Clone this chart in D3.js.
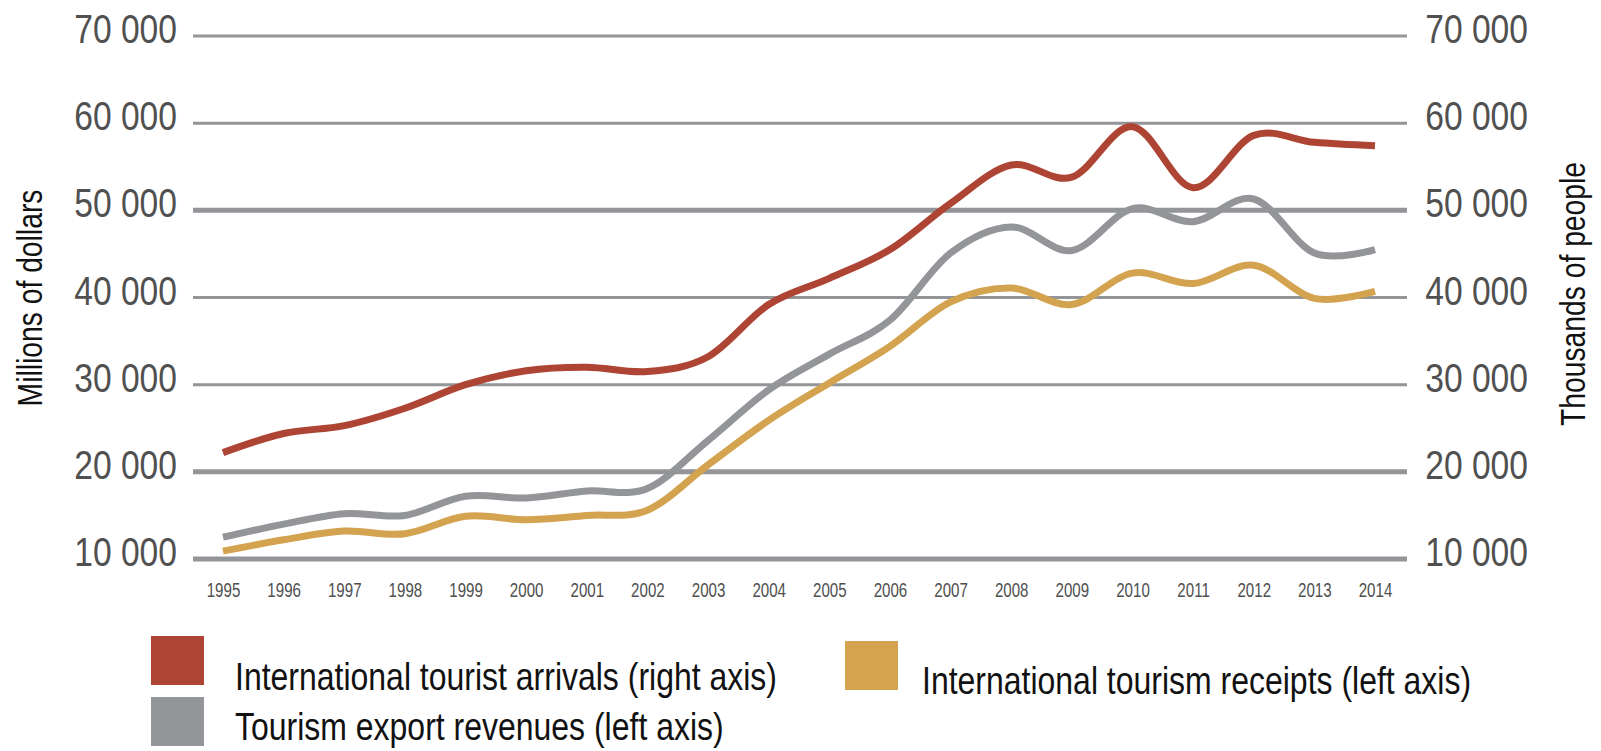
<!DOCTYPE html>
<html>
<head>
<meta charset="utf-8">
<script src="https://cdn.jsdelivr.net/npm/d3@7"></script>
<style>
  html, body { margin: 0; padding: 0; background: #fff; }
  svg { display: block; }
  text { font-family: "Liberation Sans", Arial, sans-serif; }
</style>
</head>
<body>
<svg id="chart" width="1601" height="751"></svg>
<script>
// ---------------- data ----------------
const years = ["1995","1996","1997","1998","1999","2000","2001","2002","2003","2004",
               "2005","2006","2007","2008","2009","2010","2011","2012","2013","2014"];
// International tourist arrivals (thousands of people, right axis)
const arrivals = [22200, 24400, 25300, 27300, 30000, 31600, 32000, 31500, 33200, 39200,
                  42200, 45500, 50800, 55200, 53800, 59600, 52600, 58600, 57800, 57400];
// Tourism export revenues (millions of dollars, left axis)
const exportRevenues = [12500, 14000, 15200, 15000, 17200, 17000, 17800, 18100, 23600, 29400,
                        33500, 37400, 45100, 48100, 45400, 50200, 48700, 51300, 45100, 45500];
// International tourism receipts (millions of dollars, left axis)
const receipts = [10900, 12200, 13200, 12900, 14900, 14500, 15000, 15600, 20800, 25900,
                  30200, 34400, 39500, 41100, 39200, 42800, 41600, 43700, 39900, 40700];
const yTicks = [10000, 20000, 30000, 40000, 50000, 60000, 70000];
const thickGrid = [10000, 20000, 50000];
const leftTitle = "Millions of dollars";
const rightTitle = "Thousands of people";
const legendItems = [
  {label: "International tourist arrivals (right axis)", color: "#AE4433"},
  {label: "Tourism export revenues (left axis)", color: "#939598"},
  {label: "International tourism receipts (left axis)", color: "#D4A350"}
];

// ---------------- layout ----------------
const svg = d3.select("#chart");
const gridX0 = 193, gridX1 = 1407;
const NARROW = 0.82;
const fmt = d => d3.format(",")(d).replace(/,/g, " ");

const x = d3.scalePoint().domain(years).range([223, 1375]);
const yL = d3.scaleLinear().domain([10000, 70000]).range([559, 36]);
const yR = d3.scaleLinear().domain([10000, 70000]).range([559, 36]);

// gridlines
svg.append("g").selectAll("line").data(yTicks).join("line")
  .attr("x1", gridX0).attr("x2", gridX1)
  .attr("y1", d => yL(d)).attr("y2", d => yL(d))
  .attr("stroke", "#939598")
  .attr("stroke-width", d => thickGrid.includes(d) ? 5 : 3);

// left axis
const gL = svg.append("g").attr("transform", `translate(${gridX0},0)`)
  .call(d3.axisLeft(yL).tickValues(yTicks).tickFormat(fmt).tickSize(0).tickPadding(16 / NARROW));
gL.select(".domain").remove();
gL.selectAll("text")
  .attr("dy", null).attr("y", 6.5)
  .attr("transform", `scale(${NARROW},1)`)
  .style("font-size", "41px").style("font-family", '"Liberation Sans", Arial, sans-serif')
  .attr("fill", "#505050");

// right axis
const gR = svg.append("g").attr("transform", `translate(1528,0)`)
  .call(d3.axisLeft(yR).tickValues(yTicks).tickFormat(fmt).tickSize(0).tickPadding(0));
gR.select(".domain").remove();
gR.selectAll("text")
  .attr("dy", null).attr("y", 6.5)
  .attr("transform", `scale(${NARROW},1)`)
  .style("font-size", "41px").style("font-family", '"Liberation Sans", Arial, sans-serif')
  .attr("fill", "#505050");

// x axis
const gX = svg.append("g").attr("transform", `translate(0,584)`)
  .call(d3.axisBottom(x).tickSize(0).tickPadding(0));
gX.select(".domain").remove();
gX.selectAll("text")
  .attr("dy", null).attr("y", 13)
  .attr("transform", `scale(0.72,1)`)
  .attr("x", 0)
  .style("font-size", "21px").style("font-family", '"Liberation Sans", Arial, sans-serif')
  .attr("fill", "#505050");

// axis titles
svg.append("g").attr("transform", `translate(42,298) rotate(-90) scale(${NARROW},1)`)
  .append("text").attr("text-anchor", "middle")
  .style("font-size", "34.5px").attr("fill", "#111").text(leftTitle);
svg.append("g").attr("transform", `translate(1585,294) rotate(-90) scale(${NARROW},1)`)
  .append("text").attr("text-anchor", "middle")
  .style("font-size", "34.5px").attr("fill", "#111").text(rightTitle);

// lines
const lineL = d3.line().x((d, i) => x(years[i])).y(d => yL(d)).curve(d3.curveCardinal.tension(0));
const lineR = d3.line().x((d, i) => x(years[i])).y(d => yR(d)).curve(d3.curveCardinal.tension(0));
const series = [
  {values: receipts, gen: lineL, color: legendItems[2].color},
  {values: exportRevenues, gen: lineL, color: legendItems[1].color},
  {values: arrivals, gen: lineR, color: legendItems[0].color}
];
svg.append("g").selectAll("path").data(series).join("path")
  .attr("d", s => s.gen(s.values))
  .attr("fill", "none")
  .attr("stroke", s => s.color)
  .attr("stroke-width", 7)
  .attr("stroke-linecap", "butt");

// legend
const legendPos = [
  {sx: 151, sy: 636, tx: 235, ty: 690},
  {sx: 151, sy: 697, tx: 235, ty: 740},
  {sx: 845, sy: 641, tx: 922, ty: 694}
];
const lg = svg.append("g").selectAll("g").data(legendItems).join("g");
lg.append("rect")
  .attr("x", (d, i) => legendPos[i].sx).attr("y", (d, i) => legendPos[i].sy)
  .attr("width", 53).attr("height", 49)
  .attr("fill", d => d.color);
lg.append("g")
  .attr("transform", (d, i) => `translate(${legendPos[i].tx},${legendPos[i].ty}) scale(${NARROW},1)`)
  .append("text")
  .style("font-size", "39px").attr("fill", "#111")
  .text(d => d.label);
</script>
</body>
</html>
